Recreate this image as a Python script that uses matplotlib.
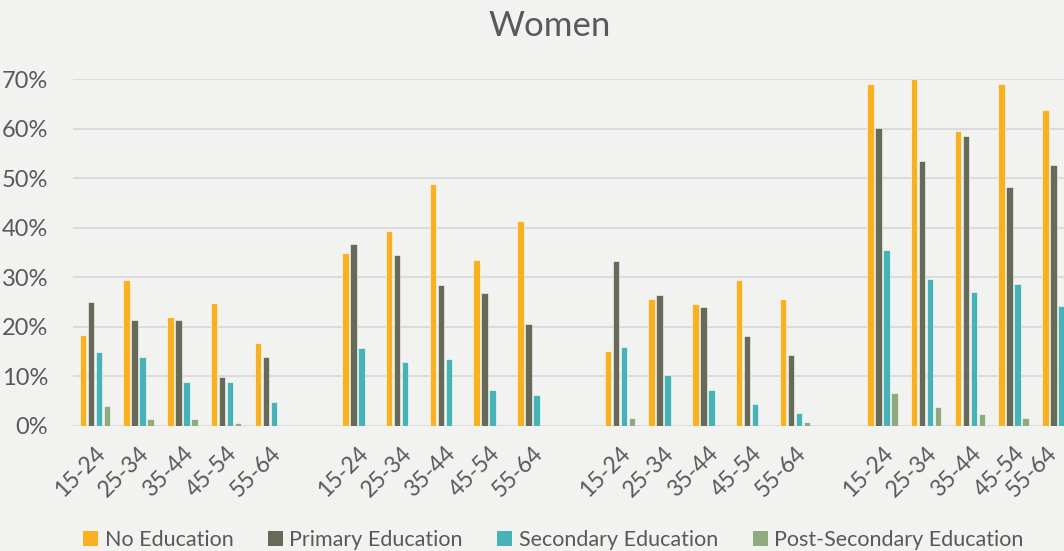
import matplotlib
matplotlib.use("Agg")
import matplotlib.pyplot as plt
import matplotlib.transforms as mtransforms
from matplotlib.patches import Patch
from matplotlib.ticker import FuncFormatter
import numpy as np

plt.rcParams['font.family'] = ['Lato', 'DejaVu Sans']

age_groups = ["15-24", "25-34", "35-44", "45-54", "55-64"]
n_blocks = 4

series_names = ["No Education", "Primary Education", "Secondary Education",
                "Post-Secondary Education"]
colors = ["#F9B122", "#666A58", "#48B3B7", "#8FAB7E"]

# values per block (5 age groups each), as fractions
no_education = [
    0.183, 0.294, 0.220, 0.247, 0.167,
    0.349, 0.394, 0.488, 0.334, 0.413,
    0.151, 0.256, 0.246, 0.294, 0.256,
    0.690, 0.701, 0.595, 0.690, 0.638,
]
primary_education = [
    0.250, 0.213, 0.214, 0.098, 0.139,
    0.366, 0.344, 0.285, 0.268, 0.205,
    0.332, 0.263, 0.240, 0.182, 0.143,
    0.601, 0.535, 0.585, 0.482, 0.527,
]
secondary_education = [
    0.148, 0.139, 0.088, 0.088, 0.048,
    0.156, 0.129, 0.135, 0.072, 0.063,
    0.159, 0.102, 0.073, 0.044, 0.026,
    0.355, 0.296, 0.269, 0.286, 0.241,
]
post_secondary_education = [
    0.040, 0.014, 0.013, 0.005, 0.000,
    0.000, 0.001, 0.000, 0.000, 0.000,
    0.016, 0.001, 0.000, 0.000, 0.007,
    0.067, 0.038, 0.024, 0.016, 0.012,
]
series = [no_education, primary_education, secondary_education,
          post_secondary_education]

y_ticks = [0.0, 0.1, 0.2, 0.3, 0.4, 0.5, 0.6, 0.7]

# slot positions: 5 categories per block, one empty slot between blocks
positions = []
labels = []
for b in range(n_blocks):
    for i, age in enumerate(age_groups):
        positions.append(b * 6 + i)
        labels.append(age)
positions = np.array(positions, dtype=float)

bg = "#F2F2F0"
text_color = "#595959"

fig = plt.figure(figsize=(10.64, 5.51), dpi=100, facecolor=bg)
ax = fig.add_axes([0.0686, 0.2274, 1.0 - 0.0686, 0.8566 - 0.2274])
ax.set_facecolor(bg)

step = 0.1826
bar_w = 0.15
for k, (vals, col) in enumerate(zip(series, colors)):
    ax.bar(positions + (k - 1.5) * step, vals, width=bar_w, color=col,
           edgecolor="#FFFFFF", linewidth=0.4, zorder=3)

ax.set_xlim(-0.5, 22.15)
ax.set_ylim(0, 0.7)
ax.set_yticks(y_ticks)
ax.yaxis.set_major_formatter(FuncFormatter(lambda v, _: f"{v * 100:.0f}%"))
ax.grid(axis="y", color="#D9D9D9", linewidth=1.3, zorder=0)
ax.set_axisbelow(True)

ax.set_xticks(positions)
ax.set_xticklabels(labels, rotation=45, ha="right", rotation_mode="anchor",
                   fontsize=16.5, color=text_color)
ax.tick_params(axis="x", length=0, pad=12)
ax.tick_params(axis="y", length=0, pad=18, labelsize=17, labelcolor=text_color)
for lab in ax.get_yticklabels():
    lab.set_horizontalalignment("right")

# keep the right-most age label inside the figure edge
last = ax.get_xticklabels()[-1]
last.set_transform(last.get_transform() +
                   mtransforms.ScaledTranslation(-11 / 100, 0, fig.dpi_scale_trans))

for s in ax.spines.values():
    s.set_visible(False)

fig.text(0.517, 0.952, "Women", ha="center", va="center", fontsize=25,
         color=text_color)

handles = [Patch(facecolor=c, edgecolor="none") for c in colors]
fig.legend(handles, series_names, loc="lower center", ncol=4,
           bbox_to_anchor=(0.52, -0.033), frameon=False, fontsize=15.5,
           labelcolor=text_color, handlelength=0.7, handleheight=0.7,
           handletextpad=0.3, columnspacing=1.6)

fig.savefig("out.png", dpi=100, facecolor=bg)
